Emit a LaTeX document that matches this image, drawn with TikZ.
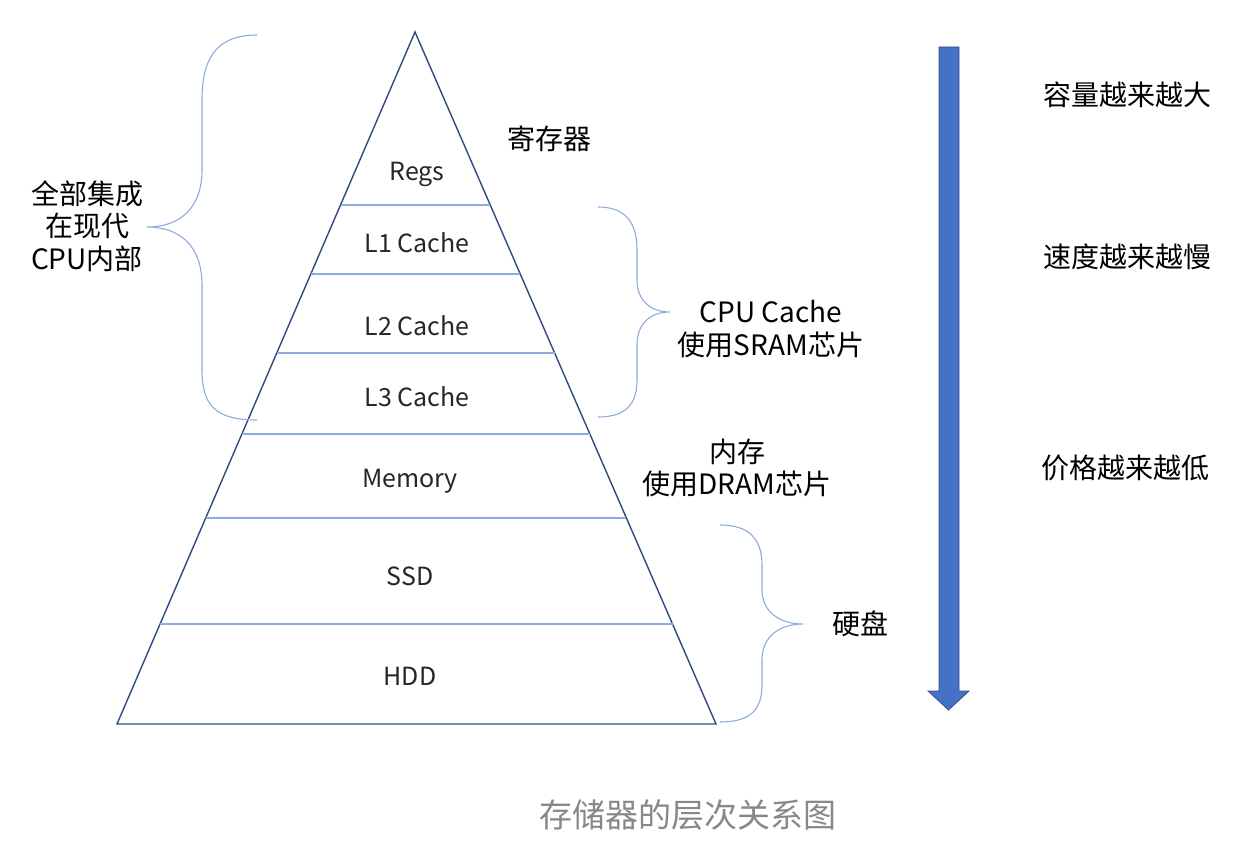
\documentclass[tikz,border=0pt]{standalone}
\usepackage{fontspec}
\setmainfont{Noto Sans CJK SC}
\usetikzlibrary{calc}
\definecolor{edgec}{HTML}{2F4A80}
\definecolor{sepc}{HTML}{8FAADC}
\definecolor{bracec}{HTML}{8FAADC}
\definecolor{arrowfill}{HTML}{4472C4}
\definecolor{arrowline}{HTML}{2F528F}
\definecolor{capc}{HTML}{888888}
\begin{document}
\begin{tikzpicture}[x=1pt,y=-1pt,
  layer/.style={font=\fontsize{25}{28}\selectfont, inner sep=0pt, anchor=center, text=black!85},
  lab/.style={font=\fontsize{28}{32.5}\selectfont, align=center, inner sep=0pt, anchor=center},
  seprule/.style={draw=sepc, line width=1.2pt},
  bracepath/.style={draw=bracec, line width=1.1pt},
]
\useasboundingbox (0,0) rectangle (1247,856);

% pyramid
\coordinate (apex) at (415,32);
\coordinate (bl) at (117,724);
\coordinate (br) at (716,724);
\draw[edgec, line width=1.4pt, line join=miter] (apex) -- (bl) -- (br) -- cycle;

\foreach \t/\n in {0.25/a,0.3497/b,0.4639/c,0.581/d,0.7023/e,0.8555/f}{
  \coordinate (L\n) at ($(apex)!\t!(bl)$);
  \coordinate (R\n) at ($(apex)!\t!(br)$);
  \draw[seprule] (L\n) -- (R\n);
}

\node[layer] (regs) at (417,174) {Regs};
\node[layer] (l1) at (417,243) {L1 Cache};
\node[layer] (l2) at (417,326) {L2 Cache};
\node[layer] (l3) at (417,397) {L3 Cache};
\node[layer] (mem) at (410,481) {Memory};
\node[layer] (ssd) at (410,576) {SSD};
\node[layer] (hdd) at (410,676) {HDD};

% labels
\node[lab] (jcq) at (549,139) {寄存器};
\node[lab] (cpuc) at (771,329) {CPU Cache\\使用SRAM芯片};
\node[lab] (nc) at (737,468) {内存\\使用DRAM芯片};
\node[lab] (yp) at (860,624) {硬盘};
\node[lab] (incpu) at (87,226) {全部集成\\在现代\\CPU内部};

\node[lab] (cap1) at (1127,95) {容量越来越大};
\node[lab] (cap2) at (1127,257) {速度越来越慢};
\node[lab] (cap3) at (1125,468) {价格越来越低};

\node[font=\fontsize{33}{36}\selectfont, text=capc, inner sep=0pt] (title) at (688,815) {存储器的层次关系图};

% braces
\coordinate (lbT) at (257,35);
\coordinate (lbP) at (147,227);
\coordinate (lbB) at (257,420);
\draw[bracepath] (lbT) .. controls (215,35) and (202,60) .. (202,100) -- (202,170)
  .. controls (202,208) and (180,227) .. (lbP)
  .. controls (180,227) and (202,246) .. (202,285) -- (202,370)
  .. controls (202,405) and (215,420) .. (lbB);

\coordinate (cbT) at (598,207);
\coordinate (cbP) at (670,312);
\coordinate (cbB) at (598,417);
\draw[bracepath] (cbT) .. controls (625,207) and (637,222) .. (637,250) -- (637,280)
  .. controls (637,300) and (650,312) .. (cbP)
  .. controls (650,312) and (637,324) .. (637,345) -- (637,380)
  .. controls (637,405) and (625,417) .. (cbB);

\coordinate (dbT) at (720,525);
\coordinate (dbP) at (803,624);
\coordinate (dbB) at (720,722);
\draw[bracepath] (dbT) .. controls (750,525) and (762,540) .. (762,565) -- (762,590)
  .. controls (762,612) and (780,624) .. (dbP)
  .. controls (780,624) and (762,636) .. (762,660) -- (762,685)
  .. controls (762,710) and (750,722) .. (dbB);

% big arrow
\draw[fill=arrowfill, draw=arrowline, line width=0.8pt, line join=miter]
  (939,47) -- (959,47) -- (959,691) -- (969,691) -- (948.5,710) -- (928,691) -- (939,691) -- cycle;
\end{tikzpicture}
\end{document}
